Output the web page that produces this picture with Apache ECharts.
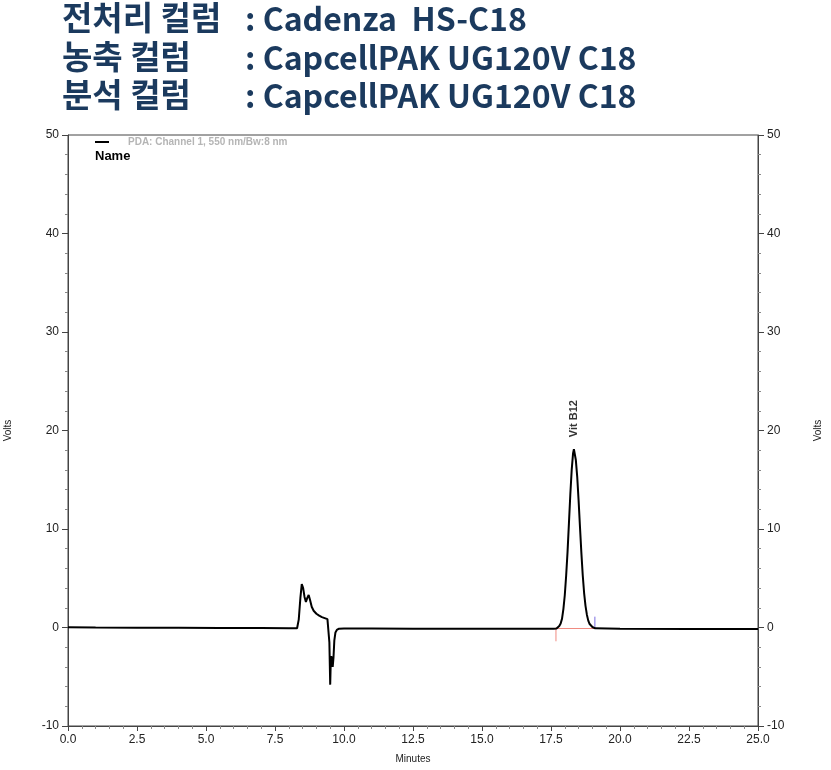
<!DOCTYPE html>
<html>
<head>
<meta charset="utf-8">
<script src="https://cdn.jsdelivr.net/npm/echarts@6/dist/echarts.min.js"></script>
<style>html,body{margin:0;padding:0;background:#fff;}#c{width:831px;height:770px;}</style>
</head>
<body>
<div id="c"></div>
<script>
// ---- data ----
const titleLabels = ['전처리 컬럼', '농축 컬럼', '분석 컬럼'];
const titleValues = [': Cadenza  HS-C18', ': CapcellPAK UG120V C18', ': CapcellPAK UG120V C18'];
const seriesName = 'PDA: Channel 1, 550 nm/Bw:8 nm';
const xTicks = [0, 2.5, 5, 7.5, 10, 12.5, 15, 17.5, 20, 22.5, 25];
const yTicks = [-10, 0, 10, 20, 30, 40, 50];
const timeMin = [0.0, 1.0, 2.5, 4.0, 5.5, 7.0, 8.0, 8.3, 8.36, 8.42, 8.47, 8.52, 8.57, 8.62, 8.67, 8.72, 8.77, 8.83, 8.9, 9.0, 9.1, 9.2, 9.3, 9.4, 9.44, 9.47, 9.50, 9.52, 9.54, 9.57, 9.59, 9.62, 9.65, 9.69, 9.74, 9.82, 10.0, 11.0, 12.5, 14.0, 15.5, 17.0, 17.6, 17.7, 17.8, 17.85, 17.9, 17.95, 18.0, 18.05, 18.1, 18.15, 18.2, 18.25, 18.3, 18.33, 18.36, 18.4, 18.45, 18.5, 18.55, 18.6, 18.65, 18.7, 18.75, 18.8, 18.85, 18.9, 19.0, 19.1, 20.0, 22.5, 25.0];
const volts =   [0.02, 0.0, -0.02, -0.03, -0.05, -0.06, -0.08, -0.08, 0.8, 3.0, 4.4, 4.0, 3.1, 2.6, 3.0, 3.3, 2.8, 2.1, 1.7, 1.4, 1.2, 1.05, 0.95, 0.85, 0.7, -1.5, -5.8, -3.5, -2.9, -3.0, -4.0, -3.0, -1.3, -0.5, -0.25, -0.12, -0.1, -0.1, -0.12, -0.12, -0.12, -0.12, -0.12, -0.1, 0.15, 0.4, 0.9, 1.9, 3.3, 5.3, 7.7, 10.6, 13.5, 16.0, 17.7, 18.1, 17.9, 17.0, 15.3, 12.9, 10.2, 7.6, 5.3, 3.5, 2.2, 1.3, 0.7, 0.35, 0.05, -0.08, -0.12, -0.15, -0.15];
const peakName = 'Vit B12';
const peakApex = [18.33, 18.1];
const integBaseline = [[17.68, -0.1], [19.09, -0.1]];
const peakStartTick = [[17.68, 0.0], [17.68, -1.4]];
const peakEndTick = [[19.09, 1.1], [19.09, -0.05]];

const chart = echarts.init(document.getElementById('c'), null, {renderer: 'canvas'});
const mainData = timeMin.map((t, i) => [t, volts[i]]);
const navy = '#1b3a5e';
const titleFont = '"Noto Sans CJK KR", "Noto Sans", sans-serif';
const graphics = [];
titleLabels.forEach((s, i) => {
  graphics.push({type: 'text', left: 62, top: 1 + i * 38.5, style: {text: s, font: 'bold 33px ' + titleFont, fill: navy}});
  graphics.push({type: 'text', left: 245, top: 3 + i * 38.5, style: {text: titleValues[i], font: 'bold 32px ' + titleFont, fill: navy}});
});
graphics.push({type: 'text', left: 95, top: 150, style: {text: 'Name', font: 'bold 13px "Liberation Sans", Arial, sans-serif', fill: '#000'}});

const axisFont = {fontFamily: '"Liberation Sans", Arial, sans-serif', fontSize: 12, color: '#222'};
function yAxis(pos) {
  return {
    type: 'value', position: pos, min: -10, max: 50, interval: 10,
    name: 'Volts', nameLocation: 'middle', nameGap: 55,
    nameTextStyle: {fontFamily: '"Liberation Sans", Arial, sans-serif', fontSize: 10, color: '#222'},
    axisLine: {show: true, lineStyle: {color: '#444', width: 1}},
    axisTick: {show: true, length: 6, lineStyle: {color: '#444'}},
    minorTick: {show: true, splitNumber: 5, length: 3, lineStyle: {color: '#888'}},
    axisLabel: Object.assign({margin: 9}, axisFont),
    splitLine: {show: false}
  };
}
chart.setOption({
  animation: false,
  backgroundColor: '#fff',
  graphic: graphics,
  grid: {left: 68, right: 73, top: 135, bottom: 44, containLabel: false, outerBoundsMode: 'none',
         show: true, borderColor: '#444', borderWidth: 1},
  legend: {
    show: true, left: 95, top: 137, padding: 0, itemWidth: 14, itemHeight: 2, itemGap: 4,
    data: [{name: seriesName, icon: 'rect'}],
    textStyle: {fontFamily: '"Liberation Sans", Arial, sans-serif', fontSize: 10, fontWeight: 'bold', color: '#b5b5b5', padding: [0, 0, 0, 14]}
  },
  xAxis: {
    type: 'value', min: 0, max: 25, interval: 2.5,
    name: 'Minutes', nameLocation: 'middle', nameGap: 28,
    nameTextStyle: {fontFamily: '"Liberation Sans", Arial, sans-serif', fontSize: 10, color: '#222'},
    axisLine: {show: true, onZero: false, lineStyle: {color: '#444'}},
    axisTick: {show: true, length: 5, lineStyle: {color: '#444'}},
    minorTick: {show: true, splitNumber: 5, length: 3, lineStyle: {color: '#888'}},
    axisLabel: Object.assign({margin: 8, formatter: v => v.toFixed(1)}, axisFont),
    splitLine: {show: false}
  },
  yAxis: [yAxis('left'), yAxis('right')],
  series: [
    {name: seriesName, type: 'line', data: mainData, showSymbol: false, symbol: 'none',
     lineStyle: {color: '#000', width: 2}, itemStyle: {color: '#000'}, z: 5},
    {name: 'baseline', type: 'line', data: integBaseline, symbol: 'none', lineStyle: {color: '#f08a80', width: 1}, z: 4},
    {name: 'start', type: 'line', data: peakStartTick, symbol: 'none', lineStyle: {color: '#f08a80', width: 1}, z: 4},
    {name: 'end', type: 'line', data: peakEndTick, symbol: 'none', lineStyle: {color: '#7a6ee0', width: 1}, z: 4},
    {name: 'peak', type: 'scatter', data: [peakApex], symbolSize: 0,
     label: {show: true, formatter: peakName, position: 'top', distance: 12, rotate: 90, align: 'left', verticalAlign: 'middle',
             fontFamily: '"Liberation Sans", Arial, sans-serif', fontSize: 11, fontWeight: 'bold', color: '#000'}}
  ]
});
</script>
</body>
</html>
